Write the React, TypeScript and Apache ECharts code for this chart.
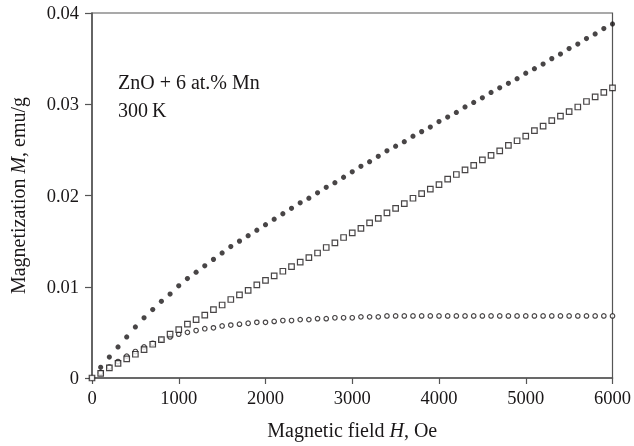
import React, { useEffect, useRef } from "react";
import * as echarts from "echarts";

const fieldH: number[] = Array.from({ length: 61 }, (_, i) => i * 100);

const filledM: (number | null)[] = [
  null, 0.00117, 0.0023, 0.0034, 0.0045, 0.0056, 0.0066, 0.0075, 0.0084, 0.0092,
  0.0101, 0.0109, 0.0116, 0.0123, 0.013, 0.0137, 0.0144, 0.015, 0.0156, 0.0162,
  0.0168, 0.0174, 0.018, 0.0186, 0.0192, 0.0197, 0.0203, 0.0209, 0.0214, 0.022,
  0.0226, 0.0232, 0.0237, 0.0243, 0.0249, 0.0254, 0.0259, 0.0265, 0.027, 0.0275,
  0.0281, 0.0286, 0.0291, 0.0297, 0.0302, 0.0307, 0.0313, 0.0318, 0.0323, 0.0328,
  0.0334, 0.0339, 0.0344, 0.035, 0.0355, 0.0361, 0.0366, 0.0372, 0.0377, 0.0383,
  0.0388,
];

const squareM: number[] = [
  0, 0.0005, 0.0011, 0.0016, 0.0021, 0.0026, 0.0031, 0.0037, 0.0042, 0.0048,
  0.0053, 0.0059, 0.0064, 0.0069, 0.0075, 0.008, 0.0086, 0.0091, 0.0096, 0.0102,
  0.0107, 0.0112, 0.0117, 0.0122, 0.0127, 0.0132, 0.0137, 0.0143, 0.0148, 0.0154,
  0.0159, 0.0164, 0.017, 0.0175, 0.0181, 0.0186, 0.0191, 0.0197, 0.0202, 0.0207,
  0.0212, 0.0218, 0.0223, 0.0228, 0.0233, 0.0239, 0.0244, 0.0249, 0.0255, 0.026,
  0.0265, 0.0271, 0.0276, 0.0282, 0.0287, 0.0292, 0.0297, 0.0303, 0.0308, 0.0313,
  0.0318,
];

const openM: number[] = [
  0, 0.0006, 0.0012, 0.0018, 0.0024, 0.0029, 0.0034, 0.0038, 0.0042, 0.0045,
  0.0048, 0.005, 0.0052, 0.0054, 0.0055, 0.0057, 0.0058, 0.0059, 0.006, 0.0061,
  0.0061, 0.0062, 0.0063, 0.0063, 0.0064, 0.0064, 0.0065, 0.0065, 0.0066, 0.0066,
  0.0066, 0.0067, 0.0067, 0.0067, 0.0068, 0.0068, 0.0068, 0.0068, 0.0068, 0.0068,
  0.0068, 0.0068, 0.0068, 0.0068, 0.0068, 0.0068, 0.0068, 0.0068, 0.0068, 0.0068,
  0.0068, 0.0068, 0.0068, 0.0068, 0.0068, 0.0068, 0.0068, 0.0068, 0.0068, 0.0068,
  0.0068,
];

const xTicks = { min: 0, max: 6000, interval: 1000 };
const yTicks = { min: 0, max: 0.04, interval: 0.01 };
const annotation = ["ZnO + 6 at.% Mn", "300\u2009K"];

const FONT = "Liberation Serif";
const INK = "#1a1718";
const NAME_SIZE = 20;
const TICK_SIZE = 18.5;

export default function App() {
  const ref = useRef<HTMLDivElement>(null);
  useEffect(() => {
    if (!ref.current) return;
    const chart = echarts.init(ref.current, null, { renderer: "svg" });
    const pair = (arr: (number | null)[]) =>
      fieldH.map((h, i) => (arr[i] === null ? null : [h, arr[i]])).filter((d) => d !== null);
    const nameStyle = {
      fontFamily: FONT,
      fontSize: NAME_SIZE,
      color: INK,
      rich: { i: { fontStyle: "italic", fontFamily: FONT, fontSize: NAME_SIZE, color: INK } },
    };
    chart.setOption({
      animation: false,
      textStyle: { fontFamily: FONT },
      grid: {
        left: 91,
        right: 21,
        top: 13,
        bottom: 68,
        show: true,
        borderColor: "#555",
        borderWidth: 1.2,
      },
      xAxis: {
        type: "value",
        ...xTicks,
        name: "Magnetic field {i|H}, Oe",
        nameLocation: "middle",
        nameGap: 42,
        nameTextStyle: nameStyle,
        axisLine: { show: true, lineStyle: { color: "#555", width: 1.5 } },
        axisTick: { show: true, inside: false, length: 6, lineStyle: { color: "#555", width: 1.2 } },
        axisLabel: {
          color: INK,
          fontSize: TICK_SIZE,
          fontFamily: FONT,
          margin: 10,
          formatter: (v: number) => String(v),
        },
        splitLine: { show: false },
      },
      yAxis: {
        type: "value",
        ...yTicks,
        name: "Magnetization {i|M}, emu/g",
        nameLocation: "middle",
        nameGap: 64,
        nameTextStyle: nameStyle,
        axisLine: { show: true, lineStyle: { color: "#555", width: 1.5 } },
        axisTick: { show: true, inside: false, length: 7, lineStyle: { color: "#555", width: 1.2 } },
        axisLabel: {
          color: INK,
          fontSize: TICK_SIZE,
          fontFamily: FONT,
          margin: 13,
          formatter: (v: number) => (v === 0 ? "0" : v.toFixed(2)),
        },
        splitLine: { show: false },
      },
      graphic: [
        {
          type: "text",
          left: 118,
          top: 72,
          style: { text: annotation[0], font: `${NAME_SIZE}px "${FONT}"`, fill: INK },
        },
        {
          type: "text",
          left: 118,
          top: 100,
          style: { text: annotation[1], font: `${NAME_SIZE}px "${FONT}"`, fill: INK },
        },
      ],
      series: [
        {
          type: "scatter",
          data: pair(openM),
          symbol: "circle",
          symbolSize: 4.5,
          itemStyle: { color: "#fff", borderColor: INK, borderWidth: 1.2 },
        },
        {
          type: "scatter",
          data: pair(squareM),
          symbol: "rect",
          symbolSize: 5.5,
          itemStyle: { color: "#fff", borderColor: INK, borderWidth: 1.2 },
        },
        {
          type: "scatter",
          data: pair(filledM),
          symbol: "circle",
          symbolSize: 5.2,
          itemStyle: { color: INK },
        },
      ],
    });
    return () => chart.dispose();
  }, []);
  return (
    <div
      ref={ref}
      style={{ width: 634, height: 446, position: "fixed", left: 0, top: 0 }}
    />
  );
}
